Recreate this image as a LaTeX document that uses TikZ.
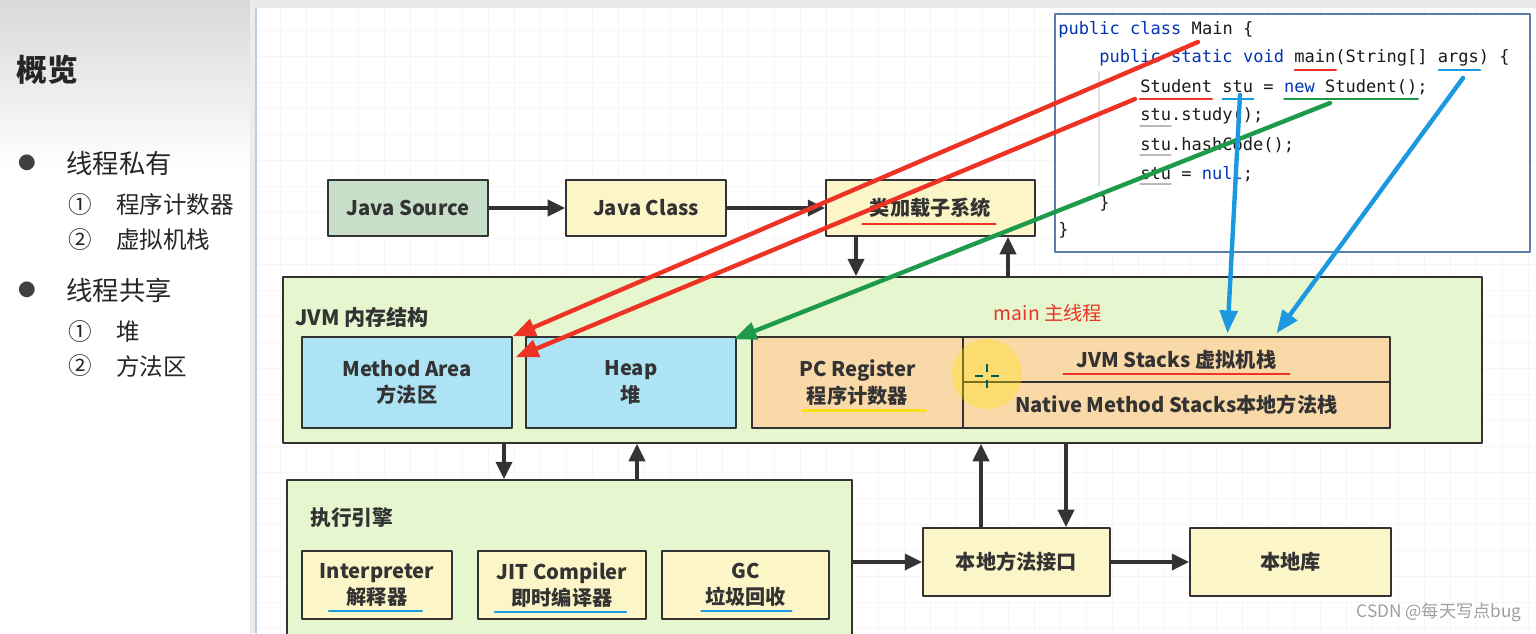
\documentclass[tikz,border=0pt]{standalone}
\usepackage{fontspec}
\setmainfont{Noto Sans CJK SC}
\newfontfamily\codefont{DejaVu Sans Mono}
\usetikzlibrary{arrows.meta}
\definecolor{boxyellow}{HTML}{FCF5C7}
\definecolor{srcgreen}{HTML}{C7DEC8}
\definecolor{memgreen}{HTML}{E6F7D0}
\definecolor{areablue}{HTML}{ADE3F4}
\definecolor{stackorange}{HTML}{FAD9A8}
\definecolor{penred}{HTML}{EE3224}
\definecolor{pengreen}{HTML}{1E9B4A}
\definecolor{penblue}{HTML}{1A98E0}
\definecolor{penyellow}{HTML}{F7E11A}
\definecolor{kwblue}{HTML}{0033B3}
\definecolor{codeblack}{HTML}{1A1A1A}
\definecolor{framegray}{HTML}{333333}
\definecolor{codeframe}{HTML}{5B7FA8}
\newcommand{\kw}[1]{\textcolor{kwblue}{#1}}
\begin{document}
\begin{tikzpicture}[x=0.02cm, y=-0.02cm, line join=round, line cap=round,
    box/.style={draw=framegray, line width=0.8pt, align=center, inner sep=0pt, text=framegray,
        font=\bfseries\fontsize{11.5}{15}\selectfont},
    flow/.style={-{Triangle[length=10pt,width=9pt]}, draw=framegray, line width=2.6pt, line cap=butt},
    pen/.style={-{Triangle[length=13pt,width=10pt]}, line width=2.5pt},
    uline/.style={line width=1.3pt},
    code/.style={anchor=west, inner sep=0pt, text=codeblack, font=\codefont\fontsize{9.7}{12}\selectfont},
    side/.style={anchor=west, inner sep=0pt, text=black!85},
    gridline/.style={draw=gray!7, line width=0.4pt}]
    \def\cw{10.3}
    \useasboundingbox (0,0) rectangle (1536,633);
    \clip (0,0) rectangle (1536,633);
    \fill[white] (0,0) rectangle (1536,633);
    \shade[top color=gray!30, bottom color=white] (0,0) rectangle (250,170);
    \fill[gray!15] (250,0) rectangle (256,633);
    \fill[gray!18] (256,0) rectangle (1536,8);
    \draw[codeframe!40, line width=1pt] (256,8) -- (256,633);
    \foreach \gx in {280,306,...,1536} \draw[gridline] (\gx,8) -- (\gx,633);
    \foreach \gy in {30,56,...,633} \draw[gridline] (258,\gy) -- (1536,\gy);

    \node[side, font=\bfseries\fontsize{17.5}{20}\selectfont] (title) at (16,70) {概览};
    \node[text=black!75, font=\fontsize{10}{12}\selectfont] (dotA) at (27,163) {●};
    \node[side, font=\fontsize{15}{18}\selectfont] (privA) at (66,163) {线程私有};
    \node[text=black!85, font=\fontsize{13.4}{16}\selectfont] (numA) at (80,205) {①};
    \node[side, font=\fontsize{13.4}{16}\selectfont] (privB) at (116,205) {程序计数器};
    \node[text=black!85, font=\fontsize{13.4}{16}\selectfont] (numB) at (80,240) {②};
    \node[side, font=\fontsize{13.4}{16}\selectfont] (privC) at (116,240) {虚拟机栈};
    \node[text=black!75, font=\fontsize{10}{12}\selectfont] (dotB) at (27,290) {●};
    \node[side, font=\fontsize{15}{18}\selectfont] (shareA) at (66,290) {线程共享};
    \node[text=black!85, font=\fontsize{13.4}{16}\selectfont] (numC) at (80,332) {①};
    \node[side, font=\fontsize{13.4}{16}\selectfont] (shareB) at (116,332) {堆};
    \node[text=black!85, font=\fontsize{13.4}{16}\selectfont] (numD) at (80,366) {②};
    \node[side, font=\fontsize{13.4}{16}\selectfont] (shareC) at (116,366) {方法区};

    \node[box, fill=srcgreen, minimum width=3.2cm, minimum height=1.12cm] (src) at (408,208) {Java Source};
    \node[box, fill=boxyellow, minimum width=3.2cm, minimum height=1.12cm] (cls) at (646,208) {Java Class};
    \node[box, fill=boxyellow, minimum width=4.18cm, minimum height=1.12cm] (loader) at (930.5,208) {类加载子系统};
    \draw[uline, penred] ([shift={(-68,16)}]loader.center) -- ([shift={(65,16)}]loader.center);

    \node[box, fill=memgreen, minimum width=23.98cm, minimum height=3.32cm] (jvm) at (882.5,360) {};
    \node[anchor=west, inner sep=0pt, text=framegray, font=\bfseries\fontsize{12}{14}\selectfont] (jvmlabel) at (295,317) {JVM 内存结构};
    \node[inner sep=0pt, text=penred, font=\fontsize{11}{13}\selectfont] (mainlabel) at (1048,313) {main 主线程};
    \node[box, fill=areablue, minimum width=4.2cm, minimum height=1.82cm] (method) at (407,382.5) {Method Area\\方法区};
    \node[box, fill=areablue, minimum width=4.2cm, minimum height=1.82cm] (heap) at (631,382.5) {Heap\\堆};
    \node[box, fill=stackorange, minimum width=4.22cm, minimum height=1.82cm] (pc) at (857.5,382.5) {PC Register\\程序计数器};
    \node[box, fill=stackorange, minimum width=8.54cm, minimum height=0.9cm] (stacks) at (1176.5,359.5) {JVM Stacks 虚拟机栈};
    \node[box, fill=stackorange, minimum width=8.54cm, minimum height=0.92cm] (native) at (1176.5,405) {Native Method Stacks本地方法栈};
    \draw[uline, penyellow, line width=1.8pt] ([shift={(-55,28)}]pc.center) -- ([shift={(68,28)}]pc.center);
    \draw[uline, penred] ([shift={(-113,14.5)}]stacks.center) -- ([shift={(113,14.5)}]stacks.center);

    \node[box, fill=memgreen, minimum width=11.3cm, minimum height=3.2cm] (engine) at (569.5,560) {};
    \node[anchor=west, inner sep=0pt, text=framegray, font=\bfseries\fontsize{11.8}{14}\selectfont] (enginelabel) at (310,518) {执行引擎};
    \node[box, fill=boxyellow, minimum width=3cm, minimum height=1.36cm] (interp) at (377,585) {Interpreter\\解释器};
    \node[box, fill=boxyellow, minimum width=3.36cm, minimum height=1.36cm] (jit) at (562,585) {JIT Compiler\\即时编译器};
    \node[box, fill=boxyellow, minimum width=3.34cm, minimum height=1.36cm] (gc) at (745.5,585) {GC\\垃圾回收};
    \draw[uline, penblue] ([shift={(-48,26)}]interp.center) -- ([shift={(45,26)}]interp.center);
    \draw[uline, penblue] ([shift={(-67,27)}]jit.center) -- ([shift={(64,27)}]jit.center);
    \draw[uline, penblue] ([shift={(-44,26)}]gc.center) -- ([shift={(46,26)}]gc.center);

    \node[box, fill=boxyellow, minimum width=3.74cm, minimum height=1.36cm] (nif) at (1016.5,562) {本地方法接口};
    \node[box, fill=boxyellow, minimum width=4.02cm, minimum height=1.36cm] (lib) at (1290.5,562) {本地库};

    \draw[flow] (src) -- (cls);
    \draw[flow] (cls) -- (loader);
    \draw[flow] ([xshift=-1.49cm]loader.south) -- ([xshift=-1.49cm]loader.south |- jvm.north);
    \draw[flow] ([xshift=1.55cm]loader.south |- jvm.north) -- ([xshift=1.55cm]loader.south);
    \draw[flow] ([xshift=-1.31cm]engine.north |- jvm.south) -- ([xshift=-1.31cm]engine.north);
    \draw[flow] ([xshift=1.35cm]engine.north) -- ([xshift=1.35cm]engine.north |- jvm.south);
    \draw[flow] (engine.east |- nif) -- (nif);
    \draw[flow] (nif) -- (lib);
    \draw[flow] ([xshift=-0.71cm]nif.north) -- ([xshift=-0.71cm]nif.north |- jvm.south);
    \draw[flow] ([xshift=0.99cm]nif.north |- jvm.south) -- ([xshift=0.99cm]nif.north);

    \node[draw=codeframe, line width=0.9pt, fill=white, minimum width=9.5cm, minimum height=4.76cm, inner sep=0pt] (code) at (1292.5,133) {};
    \draw[gray!25, line width=0.6pt] (1099,72) -- (1099,186);
    \node[code] (c1) at (1058,30) {\kw{public} \kw{class} Main \{};
    \node[code] (c2) at (1099,58) {\kw{public} \kw{static} \kw{void} main(String[] args) \{};
    \node[code] (c3) at (1140,87) {Student stu = \kw{new} Student();};
    \node[code] (c4) at (1140,116) {stu.study();};
    \node[code] (c5) at (1140,145) {stu.hashCode();};
    \node[code] (c6) at (1140,174) {stu = \kw{null};};
    \node[code] (c7) at (1099,203) {\}};
    \node[code] (c8) at (1058,230) {\}};
    \draw[uline, penred] ([shift={({19*\cw},12)}]c2.west) -- ([shift={({23*\cw},12)}]c2.west);
    \draw[uline, penblue] ([shift={({33*\cw},12)}]c2.west) -- ([shift={({37*\cw},12)}]c2.west);
    \draw[uline, penred] ([shift={(0,12)}]c3.west) -- ([shift={({7*\cw},12)}]c3.west);
    \draw[uline, penblue] ([shift={({8*\cw},12)}]c3.west) -- ([shift={({11*\cw},12)}]c3.west);
    \draw[uline, pengreen] ([shift={({14*\cw},12)}]c3.west) -- ([shift={({27*\cw},12)}]c3.west);
    \foreach \ln in {c4,c5,c6}
        \draw[gray!55, line width=0.8pt] ([shift={(0,10)}]\ln.west) -- ([shift={({3*\cw},10)}]\ln.west);

    \fill[yellow!85!orange, opacity=0.35] (987,374) circle[radius=0.7cm];
    \draw[teal!70!black, line width=1pt, line cap=butt] (975,376) -- (983,376) (991,376) -- (999,376)
        (987,364) -- (987,372) (987,380) -- (987,388);

    \coordinate (redA) at (1198,42);
    \coordinate (redB) at (1135,99);
    \coordinate (greenA) at (1330,103);
    \coordinate (blueA) at (1240,95);
    \coordinate (blueB) at (1463,78);
    \draw[pen, penred] (redA) -- (method.north east);
    \draw[pen, penred] (redB) -- ([shift={(3,21)}]method.north east);
    \draw[pen, pengreen] (greenA) -- ([shift={(-3,3)}]heap.north east);
    \draw[pen, penblue] (blueA) -- ([shift={(51,-3)}]stacks.north);
    \draw[pen, penblue] (blueB) -- ([shift={(100,-3)}]stacks.north);

    \node[anchor=east, inner sep=0pt, text=gray!75, font=\fontsize{9.8}{12}\selectfont] (mark) at (1522,612) {CSDN @每天写点bug};
\end{tikzpicture}
\end{document}
